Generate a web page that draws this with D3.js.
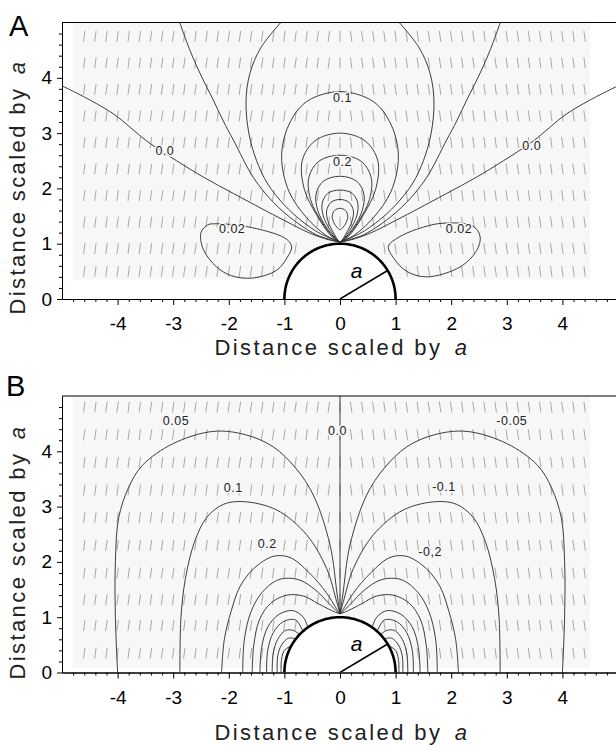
<!DOCTYPE html>
<html>
<head>
<meta charset="utf-8">
<script src="https://cdn.jsdelivr.net/npm/d3@7"></script>
<style>
body { margin: 0; background: #fff; }
svg { display: block; font-family: "Liberation Sans", Arial, sans-serif; }
</style>
</head>
<body>
<div id="wrapper"></div>
<script>
// ---- axis ticks
const xTicks = [-4, -3, -2, -1, 0, 1, 2, 3, 4]
const yTicks = [0, 1, 2, 3, 4]

// ---- panel A: contours as right halves (mirrored to the left), data units of a
const aZeroHalf = [[5.05,3.88],[4.5,3.6],[4.05,3.33],[3.48,2.86],[2.94,2.5],[2.45,2.2],[1.92,1.91],[1.4,1.63],[1.02,1.43],[0.54,1.19],[0.2,1.07],[0,1.03]]
const aFanHalf = [[2.9,5.05],[2.7,4.5],[2.48,4.0],[2.28,3.6],[2.1,3.22],[1.92,2.88],[1.56,2.2],[1.2,1.75],[0.8,1.4],[0.4,1.15],[0,1.03]]
const aOpenLoopHalf = [[1.02,5.05],[1.42,4.55],[1.62,4.08],[1.69,3.58],[1.64,3.0],[1.5,2.5],[1.3,2.08],[1.0,1.7],[0.7,1.42],[0.35,1.18],[0,1.03]]
// closed loops above the sphere, top point first
const aLoopHalves = [
    [[0,3.75],[0.6,3.57],[0.92,3.15],[1.05,2.58],[0.92,1.95],[0.6,1.47],[0.25,1.15],[0,1.03]],
    [[0,3.0],[0.45,2.86],[0.68,2.5],[0.64,1.98],[0.42,1.52],[0.15,1.13],[0,1.03]],
    [[0,2.6],[0.38,2.49],[0.56,2.2],[0.53,1.8],[0.33,1.4],[0.1,1.1],[0,1.03]],
    [[0,2.22],[0.3,2.13],[0.43,1.9],[0.4,1.6],[0.25,1.3],[0.07,1.08],[0,1.03]],
    [[0,1.97],[0.22,1.91],[0.32,1.73],[0.3,1.5],[0.18,1.25],[0.05,1.07],[0,1.03]],
    [[0,1.8],[0.16,1.75],[0.24,1.6],[0.22,1.42],[0.13,1.22],[0.04,1.07],[0,1.03]],
    [[0,1.64],[0.1,1.6],[0.14,1.5],[0.11,1.38],[0.04,1.28],[0,1.25]]
]
// the two -0.02 side lobes
const aLobeLeft = [[-2.25,1.36],[-1.68,1.31],[-0.99,1.1],[-0.87,0.95],[-0.95,0.75],[-1.14,0.52],[-1.56,0.38],[-1.95,0.42],[-2.22,0.58],[-2.46,0.9],[-2.5,1.2],[-2.38,1.34]]
const aLobeRight = [[0.87,0.95],[1.08,1.13],[1.5,1.3],[1.85,1.37],[2.39,1.32],[2.52,1.13],[2.46,0.88],[2.16,0.58],[1.56,0.4],[1.2,0.5],[0.98,0.72]]
const aLabels = [
    {t: "0.0", x: -3.15, y: 2.68}, {t: "0.0", x: 3.45, y: 2.78},
    {t: "0.1", x: 0.045, y: 3.65}, {t: "0.2", x: 0.045, y: 2.48},
    {t: "0.02", x: -1.94, y: 1.28}, {t: "0.02", x: 2.14, y: 1.28}
]

// ---- panel B: lobes on the left (mirrored to the right), base on the x axis first
const bLobes = [
    [[-4.0,0],[-4.04,1.0],[-4.04,2.0],[-3.98,2.8],[-3.8,3.35],[-3.55,3.75],[-3.0,4.14],[-2.28,4.36],[-1.7,4.3],[-1.2,4.08],[-0.8,3.7],[-0.48,3.21],[-0.18,2.31],[-0.05,1.4],[0,1.06]],
    [[-2.88,0],[-2.86,1.0],[-2.78,1.7],[-2.62,2.35],[-2.4,2.8],[-2.1,3.04],[-1.74,3.09],[-1.14,2.94],[-0.6,2.49],[-0.24,1.88],[-0.06,1.28],[0,1.06]],
    [[-2.13,0],[-2.08,0.6],[-1.96,1.1],[-1.8,1.55],[-1.55,1.88],[-1.2,2.1],[-0.9,2.08],[-0.55,1.8],[-0.25,1.45],[-0.08,1.18],[0,1.06]],
    [[-1.75,0],[-1.72,0.6],[-1.6,1.1],[-1.4,1.45],[-1.1,1.68],[-0.75,1.68],[-0.45,1.5],[-0.2,1.25],[-0.05,1.1],[0,1.06]],
    [[-1.58,0],[-1.55,0.5],[-1.45,0.95],[-1.25,1.25],[-0.95,1.4],[-0.65,1.38],[-0.4,1.25],[-0.15,1.12],[0,1.06]],
    [[-1.44,0],[-1.41,0.45],[-1.3,0.82],[-1.1,1.05],[-0.85,1.12],[-0.66,1.0],[-0.58,0.82]],
    [[-1.32,0],[-1.3,0.4],[-1.2,0.72],[-1.02,0.92],[-0.8,0.95],[-0.67,0.75]],
    [[-1.22,0],[-1.2,0.35],[-1.12,0.6],[-0.98,0.76],[-0.84,0.76],[-0.73,0.69]],
    [[-1.13,0],[-1.12,0.3],[-1.05,0.5],[-0.93,0.62],[-0.8,0.61]],
    [[-1.06,0],[-1.05,0.25],[-1.0,0.4],[-0.92,0.46],[-0.87,0.49]]
]
const bZero = [[0,5.05],[0,1.06]]
const bLabels = [
    {t: "0.05", x: -2.95, y: 4.55}, {t: "0.1", x: -1.92, y: 3.34}, {t: "0.2", x: -1.31, y: 2.34},
    {t: "0.0", x: -0.045, y: 4.37},
    {t: "-0.05", x: 3.09, y: 4.55}, {t: "-0.1", x: 1.87, y: 3.36}, {t: "-0,2", x: 1.62, y: 2.18}
]

// ---- vector glyph grid (columns shared, rows per panel), lean in degrees left/right of x=0
const vecCols = [-4.6,-4.4,-4.2,-4.0,-3.8,-3.6,-3.4,-3.2,-3.0,-2.8,-2.6,-2.4,-2.2,-2.0,-1.8,-1.6,-1.4,-1.2,-1.0,-0.8,-0.6,-0.4,-0.2,0,
    0.2,0.4,0.6,0.8,1.0,1.2,1.4,1.6,1.8,2.0,2.2,2.4,2.6,2.8,3.0,3.2,3.4,3.6,3.8,4.0,4.2,4.4]
const aVecRows = [0.5, 0.91, 1.39, 1.87, 2.35, 2.83, 3.31, 3.79, 4.27, 4.75]
const bVecRows = [0.35, 0.85, 1.32, 1.8, 2.3, 2.8, 3.3, 3.8, 4.3, 4.8]
const vecLean = [8, -8]

const width = 616
const height = 747

const svg = d3.select("#wrapper").append("svg")
    .attr("width", width)
    .attr("height", height)

const x = d3.scaleLinear().domain([-5, 5]).range([62, 618])

function mirror(pts) { return pts.map(p => [-p[0], p[1]]) }

function drawPanel(cfg) {
    const y = cfg.y
    const g = svg.append("g")
    const clipId = "clip" + cfg.name

    svg.append("clipPath").attr("id", clipId).append("rect")
        .attr("x", x(-5)).attr("y", y(5))
        .attr("width", x(5) - x(-5)).attr("height", y(0) - y(5))

    const plot = g.append("g").attr("clip-path", "url(#" + clipId + ")")

    // faint shaded field area
    plot.append("rect")
        .attr("x", x(-4.8)).attr("y", y(5))
        .attr("width", x(4.5) - x(-4.8)).attr("height", y(cfg.bgBottom) - y(5))
        .attr("fill", "#f7f7f7")

    // vector glyphs
    const glyphs = []
    cfg.rows.forEach(r => vecCols.forEach(c => {
        if (Math.hypot(c, r) > 1.12) glyphs.push([c, r])
    }))
    const h = 5.5
    plot.append("g").selectAll("line").data(glyphs).enter().append("line")
        .attr("x1", d => x(d[0]) + h * Math.sin(lean(d[0])))
        .attr("y1", d => y(d[1]) - h * Math.cos(lean(d[0])))
        .attr("x2", d => x(d[0]) - h * Math.sin(lean(d[0])))
        .attr("y2", d => y(d[1]) + h * Math.cos(lean(d[0])))
        .attr("stroke", "#a8a8a8")
        .attr("stroke-width", 1)

    // contours
    const line = d3.line()
        .x(d => x(d[0])).y(d => y(d[1]))
        .curve(d3.curveCatmullRom.alpha(0.5))
    const closed = d3.line()
        .x(d => x(d[0])).y(d => y(d[1]))
        .curve(d3.curveCatmullRomClosed.alpha(0.5))
    const cg = plot.append("g").attr("fill", "none").attr("stroke", "#333").attr("stroke-width", 0.95)
    cfg.open.forEach(p => cg.append("path").attr("d", line(p)))
    cfg.closed.forEach(p => cg.append("path").attr("d", closed(p)))

    // sphere of radius a
    const arc = d3.range(0, 181, 3).map(t => [Math.cos(t * Math.PI / 180), Math.sin(t * Math.PI / 180)])
    plot.append("path")
        .attr("d", d3.line().x(d => x(d[0])).y(d => y(d[1]))(arc))
        .attr("fill", "#fff")
        .attr("stroke", "#000")
        .attr("stroke-width", 2.6)
    const ang = 31 * Math.PI / 180
    plot.append("line")
        .attr("x1", x(0)).attr("y1", y(0))
        .attr("x2", x(Math.cos(ang))).attr("y2", y(Math.sin(ang)))
        .attr("stroke", "#000").attr("stroke-width", 1.5)
    plot.append("text")
        .attr("x", x(0.3)).attr("y", y(0.38))
        .attr("font-size", "21px").attr("font-style", "italic")
        .attr("text-anchor", "middle")
        .text("a")

    // contour labels
    plot.append("g").selectAll("text").data(cfg.labels).enter().append("text")
        .attr("x", d => x(d.x)).attr("y", d => y(d.y))
        .attr("dy", "0.36em")
        .attr("text-anchor", "middle")
        .attr("font-size", "12.5px")
        .attr("letter-spacing", "0.5px")
        .attr("fill", "#222")
        .attr("stroke", "#f7f7f7").attr("stroke-width", 3)
        .attr("paint-order", "stroke")
        .text(d => d.t)

    // axes
    const xMinor = d3.range(-50, 51, 2).filter(v => v % 10 !== 0).map(v => v / 10)
    const yMinor = d3.range(0, 51, 2).filter(v => v % 10 !== 0).map(v => v / 10)

    g.append("g").attr("transform", "translate(0," + y(0) + ")")
        .call(d3.axisBottom(x).tickValues(xMinor).tickSize(3).tickSizeOuter(0).tickFormat(""))
    const xAxis = g.append("g").attr("transform", "translate(0," + y(0) + ")")
        .call(d3.axisBottom(x).tickValues(xTicks).tickSize(6).tickSizeOuter(0).tickPadding(12).tickFormat(d => String(d)))
    g.append("g").attr("transform", "translate(" + x(-5) + ",0)")
        .call(d3.axisLeft(y).tickValues(yMinor).tickSize(3).tickSizeOuter(0).tickFormat(""))
    const yAxis = g.append("g").attr("transform", "translate(" + x(-5) + ",0)")
        .call(d3.axisLeft(y).tickValues(yTicks).tickSize(5).tickSizeOuter(0).tickPadding(5).tickFormat(d => String(d)))
    g.selectAll(".domain").attr("stroke", "#000")
    xAxis.selectAll("text").attr("font-size", "19px").attr("font-family", "Liberation Sans, Arial, sans-serif")
    yAxis.selectAll("text").attr("font-size", "19px").attr("font-family", "Liberation Sans, Arial, sans-serif")

    // top frame
    g.append("line")
        .attr("x1", x(-5)).attr("x2", x(5))
        .attr("y1", y(5)).attr("y2", y(5))
        .attr("stroke", "#000").attr("stroke-width", 1)

    // panel letter
    g.append("text")
        .attr("x", cfg.letterX).attr("y", cfg.letterY)
        .attr("font-size", "29px")
        .text(cfg.name)

    // axis titles
    const xt = g.append("text")
        .attr("x", 342).attr("y", cfg.xTitleY)
        .attr("text-anchor", "middle")
        .attr("font-size", "22px").attr("letter-spacing", "2.4px")
        .attr("fill", "#222")
    xt.append("tspan").text("Distance scaled by ")
    xt.append("tspan").attr("dx", 4).attr("font-style", "italic").text("a")

    const yt = g.append("text")
        .attr("transform", "translate(25," + cfg.yTitleMid + ") rotate(-90)")
        .attr("text-anchor", "middle")
        .attr("font-size", "22px").attr("letter-spacing", "2.4px")
        .attr("fill", "#222")
    yt.append("tspan").text("Distance scaled by ")
    yt.append("tspan").attr("dx", 4).attr("font-style", "italic").text("a")
}

function lean(c) {
    if (c < -0.1) return vecLean[0] * Math.PI / 180
    if (c > 0.1) return vecLean[1] * Math.PI / 180
    return 0
}

// panel A
const yA = d3.scaleLinear().domain([0, 5]).range([299, 22.5])
const aOpen = [aZeroHalf, mirror(aZeroHalf), aFanHalf, mirror(aFanHalf), aOpenLoopHalf, mirror(aOpenLoopHalf)]
aLoopHalves.forEach(hf => aOpen.push(hf.slice().reverse().concat(mirror(hf).slice(1))))
drawPanel({
    name: "A", y: yA, bgBottom: 0.35, rows: aVecRows,
    open: aOpen, closed: [aLobeLeft, aLobeRight], labels: aLabels,
    letterX: 9, letterY: 36, xTitleY: 355, yTitleMid: 187
})

// panel B
const yB = d3.scaleLinear().domain([0, 5]).range([672.5, 396])
const bOpen = [bZero]
bLobes.forEach(l => { bOpen.push(l); bOpen.push(mirror(l)) })
drawPanel({
    name: "B", y: yB, bgBottom: 0.08, rows: bVecRows,
    open: bOpen, closed: [], labels: bLabels,
    letterX: 6, letterY: 396, xTitleY: 740, yTitleMid: 552
})
</script>
</body>
</html>
